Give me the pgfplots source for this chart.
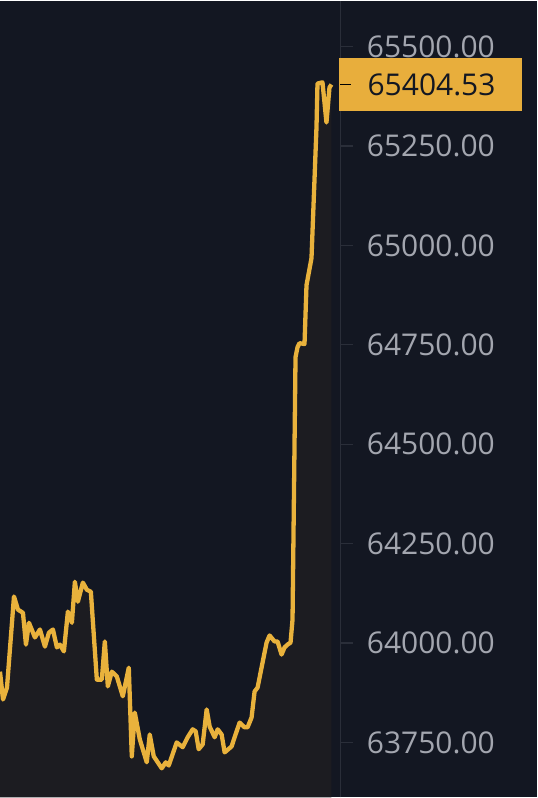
\documentclass[border=0pt]{standalone}
\usepackage{pgfplots}
\pgfplotsset{compat=1.18}
\usepackage{pgfplotstable}
\usepackage{fontspec}
\setmainfont{Open Sans}

\definecolor{bg}{HTML}{131722}
\definecolor{areafill}{HTML}{1C1C21}
\definecolor{linecol}{HTML}{E9B23C}
\definecolor{axiscol}{HTML}{2A2E39}
\definecolor{labelcol}{HTML}{A3A6AF}
\definecolor{tagcol}{HTML}{E8AE3C}

\pgfplotstableread{
x y
0 63928
3 63858
7 63888
14 64117
18 64084
23 64076
26 63996
29 64051
35 64014
40 64034
45 63991
49 64026
53 64034
57 63989
60 63996
64 63979
68 64079
72 64051
75 64154
78 64104
83 64152
87 64134
91 64129
97 63908
102 63908
105 64004
108 63891
112 63928
117 63916
123 63866
129 63938
132 63715
135 63825
140 63758
147 63700
150 63770
154 63715
158 63700
162 63685
166 63700
169 63692
177 63750
183 63738
188 63763
193 63783
196 63778
199 63733
203 63745
207 63833
210 63790
215 63763
218 63783
222 63770
225 63725
232 63740
235 63763
240 63800
245 63788
248 63788
252 63813
255 63878
258 63888
263 63951
267 64001
270 64019
275 64004
278 64004
282 63971
285 63989
288 63996
291 64001
293 64059
296 64719
298 64744
300 64754
305 64752
307 64900
312 64968
317 65297
318 65407
323 65410
327 65309
330 65397
332 65404.53
}\pricedata

\begin{document}
\begin{tikzpicture}
\fill[bg] (0,0) rectangle (538pt,798pt);
\begin{axis}[
  scale only axis, width=341pt, height=798pt,
  xmin=0, xmax=341, ymin=63611.9, ymax=65615.5,
  axis x line=none, axis y line*=right,
  y axis line style={draw=axiscol, line width=1.3pt, -},
  ytick={63750,64000,...,65500},
  scaled y ticks=false,
  tick align=outside, major tick length=13pt,
  tick style={draw=axiscol, line width=1.3pt},
  yticklabel style={font=\fontsize{30}{36}\selectfont, text=labelcol, anchor=west, xshift=10pt},
  /pgf/number format/.cd, fixed, fixed zerofill, precision=2, 1000 sep={}, assume math mode=true,
]
\addplot[draw=none, fill=areafill] table[x=x, y=y] {\pricedata} \closedcycle;
\addplot[linecol, line width=4.3pt, line join=round] table[x=x, y=y] {\pricedata};
\coordinate (tag) at (axis cs:341,65404.53);
\end{axis}
\fill[tagcol] ([xshift=-1.5pt, yshift=-27pt]tag) rectangle ++(183.5pt,54pt);
\draw[black, line width=1.5pt] (tag) -- ++(11pt,0);
\node[anchor=west, inner sep=0pt, font=\fontsize{30}{36}\selectfont, text=bg] at ([xshift=27pt]tag) {65404.53};
\end{tikzpicture}
\end{document}
